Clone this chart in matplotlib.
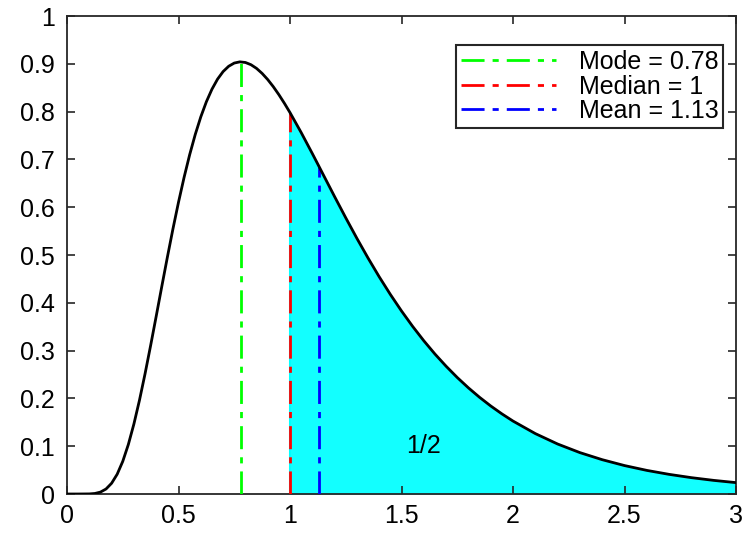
import matplotlib.pyplot as plt

plt.rcParams['font.family'] = ['Liberation Sans', 'DejaVu Sans']

# density curve
x_vals = [0.0, 0.05, 0.1, 0.125, 0.15, 0.175, 0.2, 0.225, 0.25, 0.275, 0.3, 0.325,
          0.35, 0.375, 0.4, 0.425, 0.45, 0.475, 0.5, 0.525, 0.55, 0.575, 0.6, 0.625,
          0.65, 0.675, 0.7, 0.725, 0.75, 0.775, 0.8, 0.825, 0.85, 0.875, 0.9, 0.925,
          0.95, 0.975, 1.0, 1.05, 1.1, 1.13, 1.15, 1.2, 1.25, 1.3, 1.35, 1.4, 1.45,
          1.5, 1.55, 1.6, 1.65, 1.7, 1.75, 1.8, 1.85, 1.9, 1.95, 2.0, 2.1, 2.2, 2.3,
          2.4, 2.5, 2.6, 2.7, 2.8, 2.9, 3.0]
y_vals = [0.0, 0.0, 0.0002, 0.0011, 0.004, 0.0105, 0.0225, 0.0414, 0.0683, 0.1035,
          0.1465, 0.1963, 0.2516, 0.3107, 0.3720, 0.4341, 0.4953, 0.5545, 0.6105,
          0.6624, 0.7098, 0.7521, 0.7891, 0.8207, 0.8469, 0.8679, 0.8838, 0.8949,
          0.9016, 0.9041, 0.9028, 0.8981, 0.8904, 0.8799, 0.8671, 0.8522, 0.8355,
          0.8173, 0.7979, 0.7563, 0.7123, 0.6853, 0.6672, 0.6221, 0.5778, 0.5348,
          0.4936, 0.4544, 0.4175, 0.3829, 0.3506, 0.3206, 0.2928, 0.2673, 0.2437,
          0.2221, 0.2023, 0.1842, 0.1677, 0.1526, 0.1264, 0.1046, 0.0866, 0.0718,
          0.0595, 0.0494, 0.0411, 0.0342, 0.0285, 0.0238]

mode_x, mode_y = 0.78, 0.904
median_x, median_y = 1.0, 0.798
mean_x, mean_y = 1.13, 0.685
area_label = '1/2'

fig = plt.figure(figsize=(7.47, 5.34), dpi=100)
ax = fig.add_axes([0.0897, 0.0749, 0.8956, 0.8951])

fx = [x for x in x_vals if x >= median_x]
fy = [y for x, y in zip(x_vals, y_vals) if x >= median_x]
ax.fill_between(fx, 0, fy, color='#12ffff', linewidth=0, zorder=1)
ax.plot([median_x, median_x], [0, median_y], color='cyan', lw=1.5, zorder=2)

dd = (0, (8.3, 2.9, 2.2, 2.9))
ax.plot([mode_x, mode_x], [0, mode_y], color=(0, 1, 0), lw=2, linestyle=dd,
        label='Mode = 0.78', zorder=3)
ax.plot([median_x, median_x], [0, median_y], color='red', lw=2, linestyle=dd,
        label='Median = 1', zorder=3)
ax.plot([mean_x, mean_x], [0, mean_y], color='blue', lw=2, linestyle=dd,
        label='Mean = 1.13', zorder=3)

ax.plot(x_vals, y_vals, color='black', lw=2, zorder=4)

ax.text(1.6, 0.1, area_label, fontsize=18, ha='center', va='center')

ax.set_xlim(0, 3)
ax.set_ylim(0, 1)
ax.set_xticks([0, 0.5, 1, 1.5, 2, 2.5, 3])
ax.set_xticklabels(['0', '0.5', '1', '1.5', '2', '2.5', '3'])
ax.set_yticks([i / 10 for i in range(11)])
ax.set_yticklabels(['0', '0.1', '0.2', '0.3', '0.4', '0.5', '0.6', '0.7', '0.8', '0.9', '1'])
ax.tick_params(direction='in', length=6, width=1.2, colors='#262626', labelsize=18,
               top=True, right=True, labelcolor='black')
ax.tick_params(axis='y', pad=9)
ax.tick_params(axis='x', pad=7)
for s in ax.spines.values():
    s.set_color('#262626')
    s.set_linewidth(1.3)

leg = ax.legend(loc='upper right', bbox_to_anchor=(0.981, 0.939), fontsize=18,
                fancybox=False, edgecolor='#262626', framealpha=1,
                handlelength=3.8, handletextpad=0.9, borderpad=0.2,
                labelspacing=0.02, borderaxespad=0)
leg.get_frame().set_linewidth(1.5)

fig.savefig('out.png', dpi=100)
